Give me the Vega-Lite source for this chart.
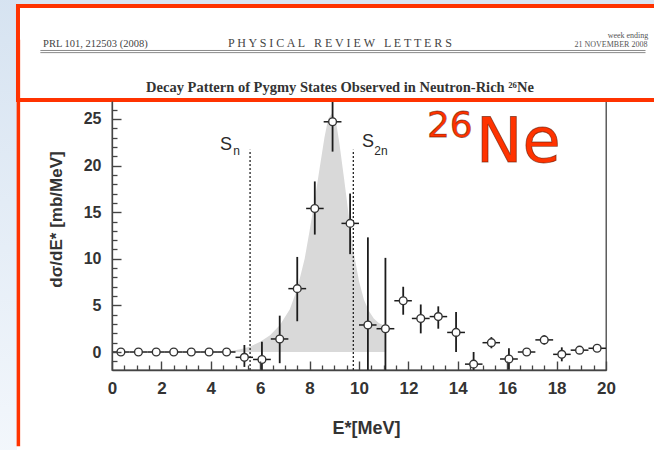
{
  "$schema": "https://vega.github.io/schema/vega-lite/v6.json",
  "width": 494,
  "height": 269,
  "autosize": "none",
  "padding": {"left": 112, "top": 101, "right": 48, "bottom": 80},
  "background": "#ffffff",
  "view": {"stroke": "#444444", "strokeWidth": 1.3},
  "resolve": {"axis": {"x": "independent", "y": "independent"}},
  "datasets": {
    "points": [
      {"E": 0.36, "Elo": 0.0, "Ehi": 0.71, "v": 0.0, "lo": 0.0, "hi": 0.0},
      {"E": 1.07, "Elo": 0.71, "Ehi": 1.43, "v": 0.0, "lo": 0.0, "hi": 0.0},
      {"E": 1.79, "Elo": 1.43, "Ehi": 2.14, "v": 0.0, "lo": 0.0, "hi": 0.0},
      {"E": 2.5, "Elo": 2.14, "Ehi": 2.86, "v": 0.0, "lo": 0.0, "hi": 0.0},
      {"E": 3.21, "Elo": 2.86, "Ehi": 3.57, "v": 0.0, "lo": 0.0, "hi": 0.0},
      {"E": 3.93, "Elo": 3.57, "Ehi": 4.29, "v": 0.0, "lo": 0.0, "hi": 0.0},
      {"E": 4.64, "Elo": 4.29, "Ehi": 5.0, "v": 0.0, "lo": 0.0, "hi": 0.0},
      {"E": 5.36, "Elo": 5.0, "Ehi": 5.71, "v": -0.57, "lo": -1.6, "hi": 0.75},
      {"E": 6.07, "Elo": 5.71, "Ehi": 6.43, "v": -0.8, "lo": -2.7, "hi": 1.1},
      {"E": 6.79, "Elo": 6.43, "Ehi": 7.14, "v": 1.4, "lo": -1.2, "hi": 3.9},
      {"E": 7.5, "Elo": 7.14, "Ehi": 7.86, "v": 6.8, "lo": 3.3, "hi": 10.2},
      {"E": 8.21, "Elo": 7.86, "Ehi": 8.57, "v": 15.4, "lo": 12.6, "hi": 18.3},
      {"E": 8.93, "Elo": 8.57, "Ehi": 9.29, "v": 24.7, "lo": 21.5, "hi": 27.9},
      {"E": 9.64, "Elo": 9.29, "Ehi": 10.0, "v": 13.8, "lo": 10.5, "hi": 17.0},
      {"E": 10.36, "Elo": 10.0, "Ehi": 10.71, "v": 2.9, "lo": -6.0, "hi": 12.3},
      {"E": 11.07, "Elo": 10.71, "Ehi": 11.43, "v": 2.5, "lo": -5.0, "hi": 10.1},
      {"E": 11.79, "Elo": 11.43, "Ehi": 12.14, "v": 5.5, "lo": 4.0, "hi": 7.0},
      {"E": 12.5, "Elo": 12.14, "Ehi": 12.86, "v": 3.6, "lo": 2.0, "hi": 5.1},
      {"E": 13.21, "Elo": 12.86, "Ehi": 13.57, "v": 3.8, "lo": 2.5, "hi": 4.9},
      {"E": 13.93, "Elo": 13.57, "Ehi": 14.29, "v": 2.1, "lo": 0.0, "hi": 4.3},
      {"E": 14.64, "Elo": 14.29, "Ehi": 15.0, "v": -1.3, "lo": -2.5, "hi": 0.0},
      {"E": 15.36, "Elo": 15.0, "Ehi": 15.71, "v": 1.0, "lo": 0.4, "hi": 1.6},
      {"E": 16.07, "Elo": 15.71, "Ehi": 16.43, "v": -0.75, "lo": -1.9, "hi": 0.4},
      {"E": 16.79, "Elo": 16.43, "Ehi": 17.14, "v": 0.0, "lo": -0.35, "hi": 0.35},
      {"E": 17.5, "Elo": 17.14, "Ehi": 17.86, "v": 1.3, "lo": 0.8, "hi": 1.8},
      {"E": 18.21, "Elo": 17.86, "Ehi": 18.57, "v": -0.25, "lo": -1.0, "hi": 0.5},
      {"E": 18.93, "Elo": 18.57, "Ehi": 19.29, "v": 0.2, "lo": 0.0, "hi": 0.4},
      {"E": 19.64, "Elo": 19.29, "Ehi": 20.0, "v": 0.4, "lo": 0.2, "hi": 0.6}
    ],
    "curve": [
      {"E": 4.3, "v": 0.0}, {"E": 4.8, "v": 0.1}, {"E": 5.2, "v": 0.3},
      {"E": 5.6, "v": 0.6}, {"E": 6.0, "v": 1.1}, {"E": 6.4, "v": 1.8},
      {"E": 6.8, "v": 2.9}, {"E": 7.2, "v": 4.6}, {"E": 7.5, "v": 6.8},
      {"E": 7.8, "v": 10.0}, {"E": 8.0, "v": 13.0}, {"E": 8.2, "v": 16.2},
      {"E": 8.4, "v": 19.6}, {"E": 8.6, "v": 23.0}, {"E": 8.75, "v": 25.0},
      {"E": 8.9, "v": 25.6}, {"E": 9.05, "v": 25.0}, {"E": 9.2, "v": 22.5},
      {"E": 9.4, "v": 18.5}, {"E": 9.6, "v": 14.3}, {"E": 9.8, "v": 10.5},
      {"E": 10.0, "v": 7.6}, {"E": 10.2, "v": 5.6}, {"E": 10.4, "v": 4.4},
      {"E": 10.6, "v": 3.6}, {"E": 10.8, "v": 3.1}, {"E": 11.1, "v": 2.7}
    ],
    "thresholds": [
      {"name": "Sn", "E": 5.59, "bottom": -1.93, "top": 21.7},
      {"name": "S2n", "E": 9.77, "bottom": -1.93, "top": 21.7}
    ],
    "page": [
      {"part": "strip", "x0": -4.8, "x1": -3.846, "y0": 38.5, "y1": -11.2},
      {"part": "band", "x0": -3.846, "x1": 22.4, "y0": 38.5, "y1": 37.23},
      {"part": "box", "x0": -3.806, "x1": 22.4, "y0": 37.12, "y1": 27.04},
      {"part": "edge", "x0": -3.79, "x1": -3.79, "y0": 33.5, "y1": -10.1},
      {"part": "rule", "x0": -2.9, "x1": 21.6, "y0": 32.35, "y1": 32.35},
      {"part": "rule", "x0": -2.9, "x1": 21.6, "y0": 32.12, "y1": 32.12}
    ],
    "notes": [
      {"group": "sym", "label": "S", "E": 4.62, "v": 21.67},
      {"group": "sub", "label": "n", "E": 5.04, "v": 21.14},
      {"group": "sym", "label": "S", "E": 10.36, "v": 22.0},
      {"group": "sub", "label": "2n", "E": 10.89, "v": 21.14},
      {"group": "mass", "label": "26", "E": 12.75, "v": 23.07},
      {"group": "element", "label": "Ne", "E": 14.74, "v": 20.39},
      {"group": "ref", "label": "PRL 101, 212503 (2008)", "E": -2.79, "v": 32.73},
      {"group": "journal", "label": "P H Y S I C A L\u00a0\u00a0\u00a0R E V I E W\u00a0\u00a0\u00a0L E T T E R S", "E": 9.23, "v": 32.73},
      {"group": "date", "label": "week ending", "E": 20.89, "v": 33.69},
      {"group": "date", "label": "21 NOVEMBER 2008", "E": 20.2, "v": 32.73},
      {"group": "headline", "label": "Decay Pattern of Pygmy States Observed in Neutron-Rich ²⁶Ne", "E": 9.23, "v": 27.9}
    ]
  },
  "layer": [
    {
      "data": {"name": "curve"},
      "mark": {"type": "area", "color": "#d9d9d9", "clip": true},
      "encoding": {
        "x": {
          "field": "E",
          "type": "quantitative",
          "scale": {"domain": [0, 20], "nice": false, "zero": false},
          "axis": {
            "orient": "bottom",
            "values": [0, 2, 4, 6, 8, 10, 12, 14, 16, 18, 20],
            "format": "d",
            "ticks": false,
            "labelPadding": 10,
            "labelFlush": false,
            "labelOverlap": false,
            "grid": false,
            "zindex": 1,
            "domainColor": "#444444", "domainWidth": 1.3,
            "labelFont": "Liberation Sans", "labelFontSize": 17, "labelFontWeight": "bold", "labelColor": "#333333",
            "title": "E*[MeV]",
            "titleFont": "Liberation Sans", "titleFontSize": 18, "titleFontWeight": "bold", "titleColor": "#333333",
            "titleX": 254, "titleY": 63, "titleBaseline": "alphabetic", "titleAlign": "center"
          }
        },
        "y": {
          "field": "v",
          "type": "quantitative",
          "scale": {"domain": [-1.93, 26.93], "nice": false, "zero": false},
          "axis": {
            "orient": "left",
            "values": [0, 5, 10, 15, 20, 25],
            "format": "d",
            "ticks": false,
            "labelPadding": 11,
            "labelFlush": false,
            "labelOverlap": false,
            "grid": false,
            "zindex": 1,
            "domainColor": "#444444", "domainWidth": 1.3,
            "labelFont": "Liberation Sans", "labelFontSize": 16, "labelFontWeight": "bold", "labelColor": "#333333",
            "title": "dσ/dE*  [mb/MeV]",
            "titleFont": "Liberation Sans", "titleFontSize": 17, "titleFontWeight": "bold", "titleColor": "#333333",
            "titleX": -56, "titleY": 118, "titleBaseline": "middle", "titleAlign": "center", "titleAngle": -90
          }
        },
        "y2": {"datum": 0}
      }
    },
    {
      "data": {"name": "page"},
      "transform": [{"filter": "datum.part === 'strip'"}],
      "mark": {"type": "rect", "color": {"gradient": "linear", "x1": 0, "y1": 0, "x2": 0, "y2": 1, "stops": [{"offset": 0, "color": "#d6e3f1"}, {"offset": 1, "color": "#f3f7fc"}]}},
      "encoding": {
        "x": {"field": "x0", "type": "quantitative", "axis": null}, "x2": {"field": "x1"},
        "y": {"field": "y0", "type": "quantitative", "axis": null}, "y2": {"field": "y1"}
      }
    },
    {
      "data": {"name": "page"},
      "transform": [{"filter": "datum.part === 'band'"}],
      "mark": {"type": "rect", "color": "#d9e5f2"},
      "encoding": {
        "x": {"field": "x0", "type": "quantitative", "axis": null}, "x2": {"field": "x1"},
        "y": {"field": "y0", "type": "quantitative", "axis": null}, "y2": {"field": "y1"}
      }
    },
    {
      "data": {"name": "thresholds"},
      "mark": {"type": "rule", "color": "#222222", "strokeWidth": 1.3, "strokeDash": [2, 2]},
      "encoding": {
        "x": {"field": "E", "type": "quantitative", "axis": null},
        "y": {"field": "bottom", "type": "quantitative", "axis": null}, "y2": {"field": "top"}
      }
    },
    {
      "data": {"name": "points"},
      "mark": {"type": "rule", "color": "#1c1c1c", "strokeWidth": 1.8, "clip": true},
      "encoding": {
        "x": {"field": "E", "type": "quantitative", "axis": null},
        "y": {"field": "lo", "type": "quantitative", "axis": null}, "y2": {"field": "hi"}
      }
    },
    {
      "data": {"name": "points"},
      "mark": {"type": "rule", "color": "#1c1c1c", "strokeWidth": 1.5, "clip": true},
      "encoding": {
        "x": {
          "field": "Elo", "type": "quantitative",
          "axis": {
            "orient": "bottom", "offset": -9,
            "values": [0, 2, 4, 6, 8, 10, 12, 14, 16, 18, 20],
            "ticks": true, "tickSize": 9, "tickOpacity": 1, "labels": false, "domain": false, "grid": false, "title": null, "zindex": 1,
            "tickColor": "#444444", "tickWidth": 1.4
          }
        },
        "x2": {"field": "Ehi"},
        "y": {
          "field": "v", "type": "quantitative",
          "axis": {
            "orient": "left", "offset": -9,
            "values": [0, 5, 10, 15, 20, 25],
            "ticks": true, "tickSize": 9, "tickOpacity": 1, "labels": false, "domain": false, "grid": false, "title": null, "zindex": 1,
            "tickColor": "#444444", "tickWidth": 1.4
          }
        }
      }
    },
    {
      "data": {"name": "points"},
      "mark": {"type": "point", "shape": "circle", "filled": true, "fill": "#ffffff", "stroke": "#333333", "strokeWidth": 1.4, "size": 60, "opacity": 1, "clip": true},
      "encoding": {
        "x": {
          "field": "E", "type": "quantitative",
          "axis": {
            "orient": "bottom", "offset": -5,
            "values": [0.5, 1, 1.5, 2.5, 3, 3.5, 4.5, 5, 5.5, 6.5, 7, 7.5, 8.5, 9, 9.5, 10.5, 11, 11.5, 12.5, 13, 13.5, 14.5, 15, 15.5, 16.5, 17, 17.5, 18.5, 19, 19.5],
            "ticks": true, "tickSize": 5, "tickOpacity": 1, "labels": false, "domain": false, "grid": false, "title": null, "zindex": 1,
            "tickColor": "#444444", "tickWidth": 1.3
          }
        },
        "y": {
          "field": "v", "type": "quantitative",
          "axis": {
            "orient": "left", "offset": -5,
            "values": [-1, 1, 2, 3, 4, 6, 7, 8, 9, 11, 12, 13, 14, 16, 17, 18, 19, 21, 22, 23, 24, 26],
            "ticks": true, "tickSize": 5, "tickOpacity": 1, "labels": false, "domain": false, "grid": false, "title": null, "zindex": 1,
            "tickColor": "#444444", "tickWidth": 1.3
          }
        }
      }
    },
    {
      "data": {"name": "notes"},
      "transform": [{"filter": "datum.group === 'sym'"}],
      "mark": {"type": "text", "font": "Liberation Sans", "fontSize": 18, "color": "#2a2a2a", "align": "center", "baseline": "alphabetic"},
      "encoding": {
        "x": {"field": "E", "type": "quantitative", "axis": null},
        "y": {"field": "v", "type": "quantitative", "axis": null},
        "text": {"field": "label"}
      }
    },
    {
      "data": {"name": "notes"},
      "transform": [{"filter": "datum.group === 'sub'"}],
      "mark": {"type": "text", "font": "Liberation Sans", "fontSize": 12, "color": "#2a2a2a", "align": "center", "baseline": "alphabetic"},
      "encoding": {
        "x": {"field": "E", "type": "quantitative", "axis": null},
        "y": {"field": "v", "type": "quantitative", "axis": null},
        "text": {"field": "label"}
      }
    },
    {
      "data": {"name": "notes"},
      "transform": [{"filter": "datum.group === 'mass'"}],
      "mark": {"type": "text", "font": "DejaVu Sans", "fontSize": 36, "color": "#ff3300", "stroke": "#5a1500", "strokeWidth": 0.8, "strokeOpacity": 0.6, "align": "left", "baseline": "alphabetic"},
      "encoding": {
        "x": {"field": "E", "type": "quantitative", "axis": null},
        "y": {"field": "v", "type": "quantitative", "axis": null},
        "text": {"field": "label"}
      }
    },
    {
      "data": {"name": "notes"},
      "transform": [{"filter": "datum.group === 'element'"}],
      "mark": {"type": "text", "font": "DejaVu Sans", "fontSize": 62, "color": "#ff3300", "stroke": "#5a1500", "strokeWidth": 0.9, "strokeOpacity": 0.6, "align": "left", "baseline": "alphabetic"},
      "encoding": {
        "x": {"field": "E", "type": "quantitative", "axis": null},
        "y": {"field": "v", "type": "quantitative", "axis": null},
        "text": {"field": "label"}
      }
    },
    {
      "data": {"name": "page"},
      "transform": [{"filter": "datum.part === 'box'"}],
      "mark": {"type": "rect", "fill": "#ffffff", "stroke": "#ff3300", "strokeWidth": 4},
      "encoding": {
        "x": {"field": "x0", "type": "quantitative", "axis": null}, "x2": {"field": "x1"},
        "y": {"field": "y0", "type": "quantitative", "axis": null}, "y2": {"field": "y1"}
      }
    },
    {
      "data": {"name": "page"},
      "transform": [{"filter": "datum.part === 'edge'"}],
      "mark": {"type": "rule", "color": "#ff3300", "strokeWidth": 3.5},
      "encoding": {
        "x": {"field": "x0", "type": "quantitative", "axis": null}, "x2": {"field": "x1"},
        "y": {"field": "y0", "type": "quantitative", "axis": null}, "y2": {"field": "y1"}
      }
    },
    {
      "data": {"name": "page"},
      "transform": [{"filter": "datum.part === 'rule'"}],
      "mark": {"type": "rule", "color": "#8a8a8a", "strokeWidth": 1},
      "encoding": {
        "x": {"field": "x0", "type": "quantitative", "axis": null}, "x2": {"field": "x1"},
        "y": {"field": "y0", "type": "quantitative", "axis": null}, "y2": {"field": "y1"}
      }
    },
    {
      "data": {"name": "notes"},
      "transform": [{"filter": "datum.group === 'ref'"}],
      "mark": {"type": "text", "font": "Liberation Serif", "fontSize": 10.5, "color": "#444444", "align": "left", "baseline": "alphabetic"},
      "encoding": {
        "x": {"field": "E", "type": "quantitative", "axis": null},
        "y": {"field": "v", "type": "quantitative", "axis": null},
        "text": {"field": "label"}
      }
    },
    {
      "data": {"name": "notes"},
      "transform": [{"filter": "datum.group === 'journal'"}],
      "mark": {"type": "text", "font": "Liberation Serif", "fontSize": 12, "color": "#444444", "align": "center", "baseline": "alphabetic"},
      "encoding": {
        "x": {"field": "E", "type": "quantitative", "axis": null},
        "y": {"field": "v", "type": "quantitative", "axis": null},
        "text": {"field": "label"}
      }
    },
    {
      "data": {"name": "notes"},
      "transform": [{"filter": "datum.group === 'date'"}],
      "mark": {"type": "text", "font": "Liberation Serif", "fontSize": 8, "color": "#555555", "align": "center", "baseline": "alphabetic"},
      "encoding": {
        "x": {"field": "E", "type": "quantitative", "axis": null},
        "y": {"field": "v", "type": "quantitative", "axis": null},
        "text": {"field": "label"}
      }
    },
    {
      "data": {"name": "notes"},
      "transform": [{"filter": "datum.group === 'headline'"}],
      "mark": {"type": "text", "font": "Liberation Serif", "fontSize": 14.5, "fontWeight": "bold", "color": "#333333", "align": "center", "baseline": "alphabetic"},
      "encoding": {
        "x": {"field": "E", "type": "quantitative", "axis": null},
        "y": {"field": "v", "type": "quantitative", "axis": null},
        "text": {"field": "label"}
      }
    }
  ]
}
